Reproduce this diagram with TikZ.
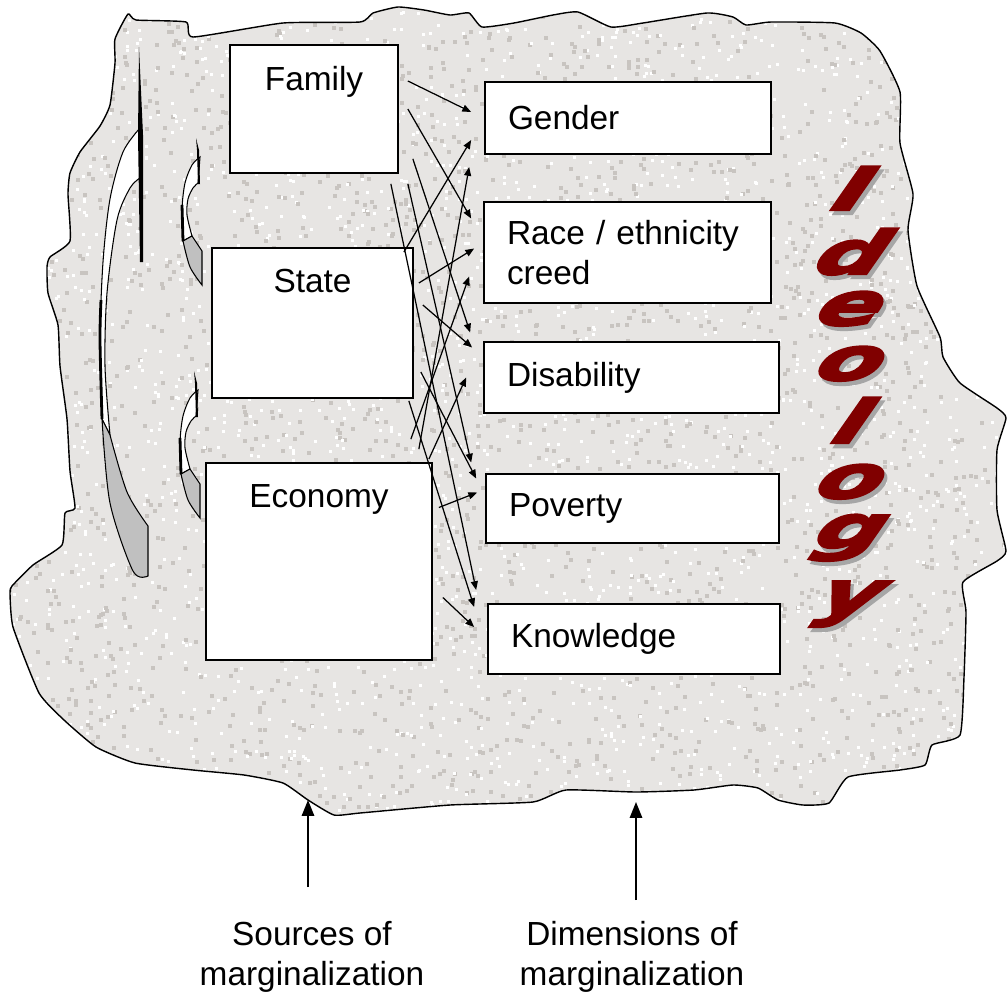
\documentclass[tikz,border=0pt]{standalone}
\usepackage{fontspec}
\setmainfont{Liberation Sans}
\newfontfamily\ideofont[FakeBold=4,FakeSlant=0.7,FakeStretch=1.6]{DejaVu Sans Bold}
\usepackage{tikz}
\usetikzlibrary{arrows.meta,positioning,calc}
\definecolor{granite}{RGB}{231,229,227}
\definecolor{speckdark}{RGB}{200,196,192}
\definecolor{ideored}{RGB}{128,0,0}
\definecolor{turngray}{RGB}{192,192,192}
\newcommand{\boxfont}{\fontsize{19}{23}\selectfont}
\newcommand{\ideo}[3]{%
  \node[ideoletter] (#2) at (#1)
    {\rlap{\kern1.7pt\raisebox{-2.3pt}{\textcolor{black!35}{#3}}}#3};}
\newcommand{\blobshape}{plot[smooth cycle,tension=0.3] coordinates {
    (128,14) (136,20) (186,22) (193,37) (283,23) (360,22) (373,13) (398,7) (424,10)
    (450,15) (469,13) (482,27) (514,23) (553,15) (578,12) (611,27) (643,23) (707,13)
    (733,17) (746,25) (771,22) (835,23) (861,33) (880,51) (900,92) (900,143) (913,194)
    (908,230) (917,286) (940,337) (943,357) (960,383) (997,408) (1006,418) (997,450)
    (997,510) (1006,551) (997,561) (963,582) (966,612) (964,677) (960,735) (932,745)
    (925,765) (900,770) (848,777) (829,803) (803,805) (778,800) (758,788) (733,785)
    (694,790) (636,792) (566,790) (533,802) (450,805) (360,813) (334,815) (308,800)
    (283,783) (244,775) (193,770) (135,763) (96,747) (64,720) (39,693) (13,627)
    (10,593) (12,586) (33,565) (62,545) (65,513) (75,508) (70,471) (67,419) (60,366)
    (58,325) (48,293) (47,267) (50,257) (70,241) (68,194) (70,173) (80,152) (100,126)
    (110,105) (115,63) (115,39)}}
\tikzset{
  source/.style={
    draw,
    fill=white,
    line width=1pt,
    label={[font=\boxfont,anchor=north,yshift=-0.44cm,inner sep=0pt]north:#1}
  },
  dimension/.style={
    draw,
    fill=white,
    line width=1pt,
    font=\boxfont,
    align=left,
    inner xsep=0.46cm,
    text width=#1
  },
  note/.style={font=\boxfont,align=center,inner sep=0pt},
  blob/.style={draw,line width=0.8pt},
  turn/.style={draw,line width=0.6pt,fill=white},
  ideoletter/.style={font=\ideofont\fontsize{34}{34}\selectfont,text=ideored,anchor=base,inner sep=0pt},
  link/.style={-{Triangle[length=5pt,width=4pt]},line width=0.7pt},
  pointer/.style={-{Triangle[length=9pt,width=7pt]},line width=1pt},
  smallturn/.pic={
    \filldraw[turn] plot[smooth] coordinates {(183,241) (182,209) (185,183) (192,165) (200,157)}
      -- plot[smooth] coordinates {(198,183) (193,188) (188,199) (187,215) (192,236)} -- cycle;
    \filldraw[turn,fill=turngray] plot[smooth] coordinates {(202,285) (190,267) (183,241)}
      -- plot[smooth] coordinates {(192,236) (202,251)} -- cycle;
    \draw[line width=1.6pt] (182,205) -- (183,241);
    \fill (196,138) -- (199,150) -- (200,184) -- (198,184) -- (197,150) -- cycle;
  }
}

\begin{document}
\begin{tikzpicture}[x=0.02cm,y=-0.02cm]
  \useasboundingbox (0,0) rectangle (1008,1002);
  % granite background
  \fill[granite] \blobshape;
  \begin{scope}
    \clip \blobshape;
    \pgfmathsetseed{11}
    \foreach \i in {1,...,2600} {
      \fill[speckdark] ({rnd*1010},{rnd*820}) rectangle ++(4,4);
      \fill[white] ({rnd*1010},{rnd*820}) rectangle ++(3,3);
    }
  \end{scope}
  \path[blob] \blobshape;

  % turning arrows on the left
  \filldraw[turn] plot[smooth] coordinates {(102,419) (100,340) (103,262) (110,199) (123,152) (140,128)}
    -- plot[smooth] coordinates {(140,178) (130,188) (117,220) (107,293) (105,366) (110,435)} -- cycle;
  \filldraw[turn,fill=turngray] plot[smooth] coordinates {(148,576) (133,571) (110,503) (102,419)}
    -- plot[smooth] coordinates {(110,435) (127,492) (148,526)} -- cycle;
  \draw[line width=1.6pt] plot[smooth] coordinates {(101,300) (100,340) (102,419)};
  \fill (139,47) -- (143,135) -- (143,262) -- (140,262) -- (138,135) -- cycle;
  \pic (turnA) at (0,0) {smallturn};
  \pic (turnB) at (-2,233) {smallturn};

  % sources
  \node[source=Family,minimum width=3.36cm,minimum height=2.56cm] (family) at (314,109) {};
  \node[source=State,minimum width=4.02cm,minimum height=3cm] (state) at (312.5,323) {};
  \node[source=Economy,minimum width=4.52cm,minimum height=3.94cm] (economy) at (319,561.5) {};

  % dimensions
  \node[dimension=4.8cm,minimum height=1.44cm] (gender) at (628,118) {Gender};
  \node[dimension=4.82cm,minimum height=2.02cm] (race) at (627.5,252.5) {Race / ethnicity\\creed};
  \node[dimension=4.98cm,minimum height=1.42cm] (disability) at (631.5,377.5) {Disability};
  \node[dimension=4.94cm,minimum height=1.38cm] (poverty) at (632.5,508.5) {Poverty};
  \node[dimension=4.92cm,minimum height=1.4cm] (knowledge) at (634,639) {Knowledge};

  \draw[link] ($(family.east)+(9,-28)$) -- ($(gender.west)+(-13,-6)$);
  \draw[link] ($(family.east)+(9,0)$) -- ($(race.west)+(-12,-34)$);
  \draw[link] ($(family.south east)+(14,-15)$) -- ($(disability.west)+(-13,-45)$);
  \draw[link] ($(family.south east)+(9,10)$) -- ($(poverty.west)+(-14,-46)$);
  \draw[link] ($(family.south east)+(-8,10)$) -- ($(knowledge.west)+(-11,-49)$);
  \draw[link] ($(state.north east)+(-10,5)$) -- ($(gender.west)+(-13,22)$);
  \draw[link] ($(state.east)+(5,-40)$) -- ($(race.west)+(-9,-4)$);
  \draw[link] ($(state.east)+(9,-18)$) -- ($(disability.west)+(-11,-30)$);
  \draw[link] ($(state.east)+(7,49)$) -- ($(poverty.west)+(-9,-30)$);
  \draw[link] ($(state.south east)+(-5,2)$) -- ($(knowledge.west)+(-13,-32)$);
  \draw[link] ($(economy.north east)+(-14,-13)$) -- ($(gender.west)+(-15,49)$);
  \draw[link] ($(economy.north east)+(-22,-23)$) -- ($(race.west)+(-14,24)$);
  \draw[link] ($(economy.north east)+(-4,-3)$) -- ($(disability.west)+(-17,0)$);
  \draw[link] ($(economy.east)+(6,-54)$) -- ($(poverty.west)+(-8,-16)$);
  \draw[link] ($(economy.east)+(10,36)$) -- ($(knowledge.west)+(-13,-12)$);

  % Ideology
  \ideo{840,210}{ideoI}{I}
  \ideo{840,274}{ideoD}{d}
  \ideo{840,325}{ideoE}{e}
  \ideo{840,380}{ideoO}{o}
  \ideo{840,443}{ideoL}{l}
  \ideo{840,498}{ideoOO}{o}
  \ideo{840,548}{ideoG}{g}
  \ideo{840,614}{ideoY}{y}

  % captions below
  \node[note,anchor=north] (sources) at (312,921) {Sources of\\marginalization};
  \node[note,anchor=north] (dimensions) at (632,921) {Dimensions of\\marginalization};
  \coordinate (srctip) at (308,800);
  \coordinate (dimtip) at (636,802);
  \draw[pointer] (sources.north -| srctip) ++(0,-34) -- (srctip);
  \draw[pointer] (dimensions.north -| dimtip) ++(0,-21) -- (dimtip);
\end{tikzpicture}
\end{document}
